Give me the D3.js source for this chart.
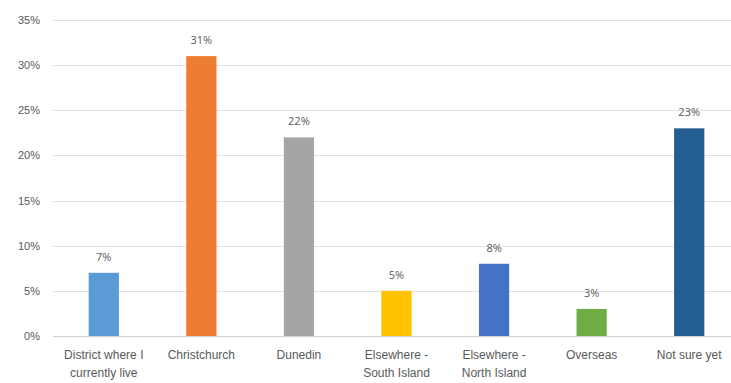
<!DOCTYPE html>
<html>
<head>
<meta charset="utf-8">
<script src="https://cdn.jsdelivr.net/npm/d3@7"></script>
<style>
  html, body { margin: 0; padding: 0; background: #fff; }
  svg { display: block; font-family: "Open Sans", "Liberation Sans", sans-serif; }
</style>
</head>
<body>
<svg id="chart" width="731" height="383"></svg>
<script>
// Where respondents expect to live
const categories = [
  ["District where I", "currently live"],
  ["Christchurch"],
  ["Dunedin"],
  ["Elsewhere -", "South Island"],
  ["Elsewhere -", "North Island"],
  ["Overseas"],
  ["Not sure yet"]
];
const values = [7, 31, 22, 5, 8, 3, 23];
const colors = ["#5B9BD5", "#ED7D31", "#A5A5A5", "#FFC000", "#4472C4", "#70AD47", "#255E91"];
const yTicks = [0, 5, 10, 15, 20, 25, 30, 35];

const svg = d3.select("#chart");
const keys = categories.map((c, i) => i);

const x = d3.scaleBand().domain(keys).range([55, 738]).paddingInner(0.69).paddingOuter(0.345);
const y = d3.scaleLinear().domain([0, 35]).range([336, 20]);

// Gridlines and y-axis labels
const yAxis = d3.axisLeft(y).tickValues(yTicks).tickFormat(d => d + "%").tickSize(0).tickPadding(13);
const gy = svg.append("g").attr("transform", "translate(53,0)").call(yAxis);
gy.select(".domain").remove();
gy.selectAll("text").attr("fill", "#595959").style("font-size", "11px");

svg.append("g").selectAll("line").data(yTicks).join("line")
  .attr("x1", 53).attr("x2", 731)
  .attr("y1", d => Math.round(y(d)) + 0.5).attr("y2", d => Math.round(y(d)) + 0.5)
  .attr("stroke", d => d === 0 ? "#D0D0D0" : "#E2E2E2").attr("stroke-width", 1);

// Bars
svg.append("g").selectAll("rect").data(values).join("rect")
  .attr("x", (d, i) => x(i))
  .attr("width", x.bandwidth())
  .attr("y", d => y(d))
  .attr("height", d => y(0) - y(d))
  .attr("fill", (d, i) => colors[i]);

// Value labels
svg.append("g").selectAll("text").data(values).join("text")
  .attr("x", (d, i) => x(i) + x.bandwidth() / 2)
  .attr("y", d => y(d) - 12)
  .attr("text-anchor", "middle")
  .attr("fill", "#595959")
  .style("font-size", "11px")
  .text(d => d + "%");

// Category labels
const xAxis = d3.axisBottom(x).tickSize(0).tickFormat("");
const gx = svg.append("g").attr("transform", "translate(0,336)").call(xAxis);
gx.select(".domain").remove();
gx.selectAll(".tick").each(function(i) {
  const t = d3.select(this).append("text")
    .attr("text-anchor", "middle")
    .attr("fill", "#595959")
    .style("font-size", "12px");
  categories[i].forEach((line, j) => {
    t.append("tspan").attr("x", 0).attr("y", 23 + j * 18).text(line);
  });
});
</script>
</body>
</html>
